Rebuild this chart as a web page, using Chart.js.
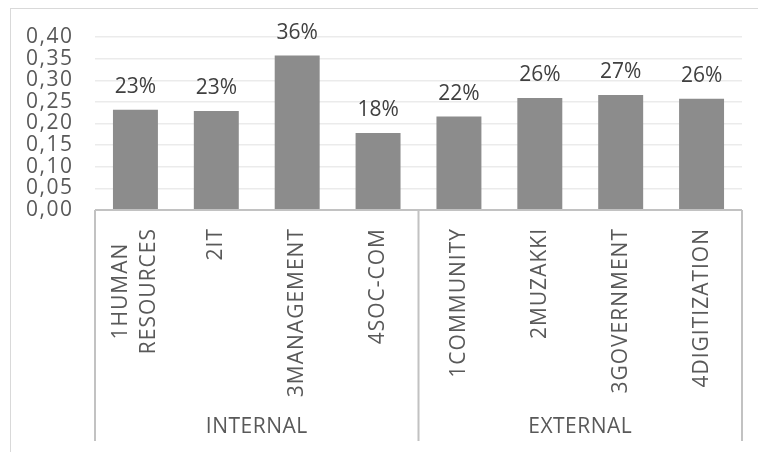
<!DOCTYPE html>
<html>
<head>
<meta charset="utf-8">
<script src="https://cdn.jsdelivr.net/npm/chart.js@4.4.1/dist/chart.umd.min.js"></script>
<style>
  html, body { margin: 0; padding: 0; background: #fff; overflow: hidden; }
  #wrap { position: relative; width: 758px; height: 452px; overflow: hidden; }
  #frame { position: absolute; left: 10px; top: 8px; width: 800px; height: 500px; border: 1px solid #d9d9d9; box-sizing: border-box; }
  canvas { position: absolute; left: 0; top: 0; }
</style>
</head>
<body>
<div id="wrap">
  <div id="frame"></div>
  <canvas id="myChart" width="758" height="452"></canvas>
</div>
<script>
// data
const categories = [["1HUMAN", "RESOURCES"], "2IT", "3MANAGEMENT", "4SOC-COM", "1COMMUNITY", "2MUZAKKI", "3GOVERNMENT", "4DIGITIZATION"];
const groups = ["INTERNAL", "EXTERNAL"];
const groupSizes = [4, 4];
const values = [0.232, 0.229, 0.357, 0.178, 0.216, 0.259, 0.266, 0.257];

const FONT = "'Open Sans', sans-serif";
const TEXT = "#595959";

// wider letters like the excel picture (y ticks are drawn by chart.js)
const spacing = {
  id: "spacing",
  beforeDraw(chart) {
    chart.ctx.letterSpacing = "1.5px";
  }
};

// percent labels above the bars
const barLabels = {
  id: "barLabels",
  afterDatasetsDraw(chart) {
    const ctx = chart.ctx;
    const meta = chart.getDatasetMeta(0);
    ctx.save();
    ctx.letterSpacing = "0px";
    ctx.font = "21px " + FONT;
    ctx.fillStyle = "#404040";
    ctx.textAlign = "center";
    ctx.textBaseline = "alphabetic";
    meta.data.forEach((bar, i) => {
      ctx.fillText(Math.round(values[i] * 100) + "%", bar.x, bar.y - 17);
    });
    ctx.restore();
  }
};

// category axis: box, rotated labels, group labels
const axisBox = {
  id: "axisBox",
  afterDraw(chart) {
    const ctx = chart.ctx;
    const area = chart.chartArea;
    const x = chart.scales.x;
    const top = area.bottom;
    const bottom = 441;
    let edges = [area.left];
    let n = 0;
    groupSizes.forEach((size, g) => {
      n += size;
      if (g < groupSizes.length - 1) {
        edges.push((x.getPixelForTick(n - 1) + x.getPixelForTick(n)) / 2);
      }
    });
    edges.push(area.right);

    ctx.save();
    ctx.strokeStyle = "#c2c2c2";
    ctx.lineWidth = 2;
    ctx.beginPath();
    ctx.moveTo(area.left, top);
    ctx.lineTo(area.right, top);
    edges.forEach((e) => {
      ctx.moveTo(e, top);
      ctx.lineTo(e, bottom);
    });
    ctx.stroke();

    ctx.fillStyle = TEXT;
    ctx.font = "21px " + FONT;

    // category labels, rotated, reading upward
    ctx.letterSpacing = "1px";
    ctx.textAlign = "right";
    ctx.textBaseline = "middle";
    categories.forEach((c, i) => {
      const lines = Array.isArray(c) ? c : [c];
      const widths = lines.map((l) => ctx.measureText(l).width);
      const maxW = Math.max(...widths);
      ctx.save();
      ctx.translate(x.getPixelForTick(i), top + 18);
      ctx.rotate(-Math.PI / 2);
      lines.forEach((l, j) => {
        ctx.fillText(l, -(maxW - widths[j]) / 2, (j - (lines.length - 1) / 2) * 28);
      });
      ctx.restore();
    });

    // group labels
    ctx.letterSpacing = "0.5px";
    ctx.textAlign = "center";
    groups.forEach((g, i) => {
      ctx.fillText(g, (edges[i] + edges[i + 1]) / 2, 427);
    });
    ctx.restore();
  }
};

const ctxOne = document.getElementById("myChart");
new Chart(ctxOne, {
  type: "bar",
  data: {
    labels: categories,
    datasets: [
      {
        data: values,
        backgroundColor: "#8c8c8c",
        barPercentage: 0.556,
        categoryPercentage: 1,
      },
    ],
  },
  options: {
    responsive: false,
    animation: false,
    layout: {
      padding: { top: 37, right: 16, left: 0, bottom: 0 },
    },
    plugins: {
      legend: { display: false },
      tooltip: { enabled: false },
    },
    scales: {
      x: {
        grid: { display: false, drawTicks: false },
        border: { display: false },
        ticks: { display: false, autoSkip: false },
        afterFit: (s) => { s.height = 242; },
      },
      y: {
        min: 0,
        max: 0.4,
        grid: { color: "#ebebeb", lineWidth: 1.5, drawTicks: false },
        border: { display: false },
        ticks: {
          stepSize: 0.05,
          autoSkip: false,
          padding: 21.5,
          color: TEXT,
          font: { family: FONT, size: 21 },
          callback: (v) => v.toFixed(2).replace(".", ","),
        },
        afterFit: (s) => { s.width = 95; },
      },
    },
  },
  plugins: [spacing, barLabels, axisBox],
});
</script>
</body>
</html>
